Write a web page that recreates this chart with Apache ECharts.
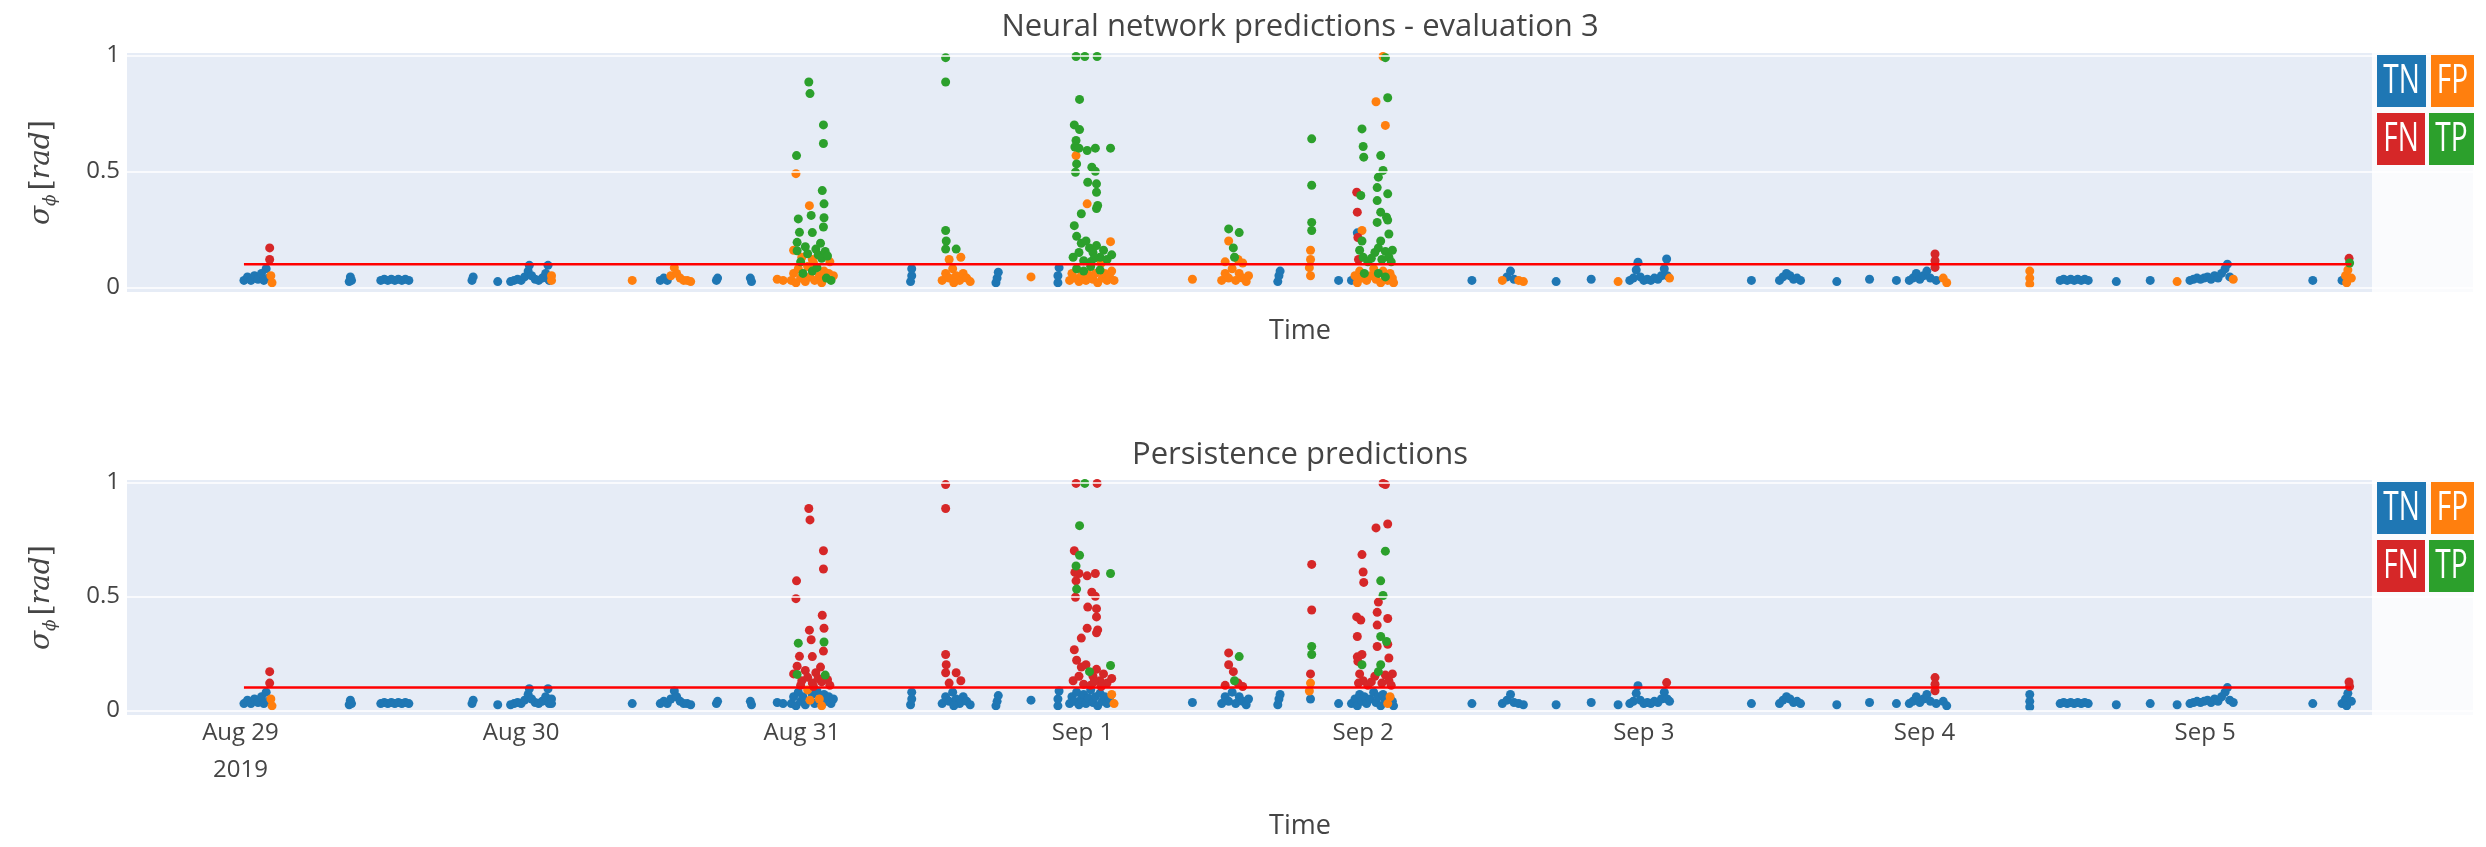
<!DOCTYPE html>
<html><head><meta charset="utf-8">
<script src="https://cdn.jsdelivr.net/npm/echarts@6/dist/echarts.min.js"></script>
<style>html,body{margin:0;padding:0;background:#fff}#c{width:2486px;height:847px}</style>
</head><body><div id="c"></div>
<script>
// ---------------- DATA ----------------
// hours since 2019-08-29 00:00 UTC
const hours = [
  0.3,0.6,0.9,1.2,1.5,1.8,2.0,2.2,2.4,2.5,2.5,2.6,2.7,
  9.3,9.4,9.5,
  12.0,12.3,12.6,12.9,13.2,13.5,13.8,14.1,14.4,
  19.8,19.9,
  22.0,
  23.1,23.4,23.7,24.0,24.3,24.6,24.7,24.9,25.2,25.5,25.8,26.1,26.3,26.4,26.6,26.6,
  33.5,
  35.9,36.2,36.5,36.8,37.1,37.3,37.6,37.9,38.2,38.5,
  40.7,40.8,
  43.6,43.7,
  45.9,
  46.4,
  48.6,48.7,49.85,49.85,47.55,47.5,49.75,48.65,49.9,47.7,48.8,49.9,47.8,48.9,49.85,47.6,49.6,
  47.3,47.6,48.0,48.3,48.5,48.9,49.2,49.4,49.7,50.0,50.2,50.4,47.9,49.0,
  47.1,47.3,47.5,47.7,47.9,48.1,48.3,48.5,48.7,48.9,49.1,49.3,49.5,49.7,49.9,50.1,50.3,50.5,50.7,
  57.3,57.4,57.4,
  60.3,60.3,60.3,60.35,60.3,61.2,61.6,60.6,60.0,60.3,60.6,60.9,61.2,61.5,61.8,62.1,62.4,61.0,
  64.6,64.7,64.8,
  67.6,
  69.9,69.9,70.0,
  71.45,72.2,73.25,71.75,71.3,71.75,71.45,71.35,71.7,72.4,73.1,74.4,71.45,71.5,71.4,72.8,73.1,72.45,73.2,73.2,72.4,73.3,73.2,71.9,71.3,
  71.5,71.9,72.3,72.6,72.9,73.2,73.5,73.8,74.1,74.4,74.5,71.2,71.7,72.1,72.7,73.0,73.6,
  70.9,71.1,71.3,71.5,71.7,71.9,72.1,72.3,72.5,72.7,72.9,73.1,73.3,73.5,73.7,73.9,74.1,74.3,74.5,74.7,
  81.4,
  84.5,85.4,84.5,84.9,85.0,85.3,84.2,85.7,83.9,84.2,84.5,84.8,85.1,85.4,85.7,86.0,86.2,
  88.7,88.8,88.9,
  91.6,91.6,91.6,91.6,91.5,91.5,91.4,91.5,
  93.9,
  97.7,97.9,97.1,98.1,97.9,95.9,96.0,96.05,97.5,97.7,97.3,97.2,98.1,95.45,95.8,97.2,95.5,97.5,98.0,97.2,98.1,95.5,95.55,95.9,98.2,97.5,95.9,
  95.7,96.0,96.4,97.0,97.3,97.6,97.9,98.2,98.4,95.6,96.7,98.5,
  95.0,95.3,95.5,95.7,95.9,96.1,96.3,96.6,96.9,97.1,97.3,97.5,97.7,97.9,98.1,98.3,98.5,98.6,
  105.3,
  107.9,108.3,108.6,108.9,109.3,109.7,
  112.5,
  115.5,
  117.8,
  118.8,119.1,119.35,119.5,119.7,120.0,120.3,120.6,120.9,121.2,121.5,121.75,121.95,122.0,122.2,
  129.2,
  131.6,131.9,132.2,132.5,132.8,133.1,133.4,
  136.5,
  139.3,
  141.6,
  142.7,143.0,143.3,143.6,143.9,144.2,144.5,144.9,144.9,144.9,145.0,145.6,145.9,
  153.0,153.0,153.0,
  155.6,155.9,156.2,156.5,156.8,157.1,157.4,157.7,158.0,
  160.4,
  163.3,
  165.6,
  166.7,167.0,167.3,167.6,167.9,168.2,168.5,168.8,169.1,169.4,169.7,169.9,170.1,170.4,
  177.2,
  179.7,180.0,180.1,180.2,180.3,180.35,180.5
];
// sigma_phi [rad]
const sigma = [
  .03,.045,.03,.05,.035,.06,.03,.08,.04,.17,.12,.05,.02,
  .025,.045,.03,
  .03,.035,.03,.035,.03,.035,.03,.035,.03,
  .03,.045,
  .025,
  .025,.03,.035,.03,.045,.07,.095,.05,.035,.03,.04,.06,.095,.03,.05,.03,
  .03,
  .03,.04,.03,.05,.085,.06,.04,.03,.03,.025,
  .03,.04,
  .04,.025,
  .035,
  .03,
  .885,.835,.70,.62,.568,.49,.417,.352,.36,.295,.31,.30,.237,.236,.26,.194,.19,
  .16,.158,.13,.175,.145,.12,.165,.14,.125,.155,.135,.11,.11,.105,
  .03,.06,.02,.08,.04,.06,.025,.09,.045,.07,.03,.085,.05,.02,.07,.04,.06,.03,.05,
  .025,.05,.08,
  .99,.885,.245,.2,.165,.165,.13,.12,.03,.06,.04,.08,.05,.03,.06,.04,.025,.02,
  .02,.04,.065,
  .045,
  .02,.05,.085,
  .995,.995,.995,.81,.70,.68,.633,.605,.60,.59,.60,.60,.568,.532,.496,.518,.50,.453,.446,.41,.36,.353,.34,.317,.266,
  .22,.19,.2,.17,.15,.18,.13,.16,.12,.197,.14,.13,.15,.115,.11,.125,.105,
  .03,.06,.04,.08,.025,.05,.07,.03,.055,.09,.035,.06,.02,.075,.04,.06,.03,.05,.07,.03,
  .035,
  .252,.236,.2,.17,.13,.12,.11,.105,.03,.06,.04,.08,.03,.06,.04,.025,.05,
  .025,.05,.07,
  .64,.44,.28,.245,.16,.12,.085,.05,
  .03,
  .995,.99,.80,.817,.698,.683,.607,.561,.568,.504,.475,.43,.403,.41,.396,.374,.324,.324,.302,.28,.29,.235,.215,.245,.23,.2,.2,
  .16,.13,.11,.15,.17,.12,.155,.13,.11,.12,.125,.16,
  .03,.05,.02,.07,.04,.06,.03,.05,.08,.035,.06,.02,.07,.045,.03,.06,.04,.02,
  .03,
  .03,.045,.07,.035,.03,.025,
  .025,
  .035,
  .025,
  .03,.04,.075,.108,.045,.03,.035,.03,.04,.035,.05,.08,.122,.05,.04,
  .03,
  .03,.045,.06,.05,.035,.04,.03,
  .025,
  .035,
  .03,
  .03,.04,.06,.035,.05,.07,.04,.144,.115,.086,.03,.04,.02,
  .07,.04,.015,
  .03,.035,.03,.035,.03,.035,.03,.035,.03,
  .025,
  .03,
  .025,
  .03,.035,.04,.035,.04,.045,.035,.05,.04,.06,.08,.1,.045,.035,
  .03,
  .03,.05,.02,.075,.125,.105,.04
];
// class codes: n = TN, p = FP, f = FN, t = TP
const nnClass = [
  'nnnnnnnnnffpp','nnn','nnnnnnnnn','nn','n','nnnnnnnnnnnnnnpp','p','nnnppppppp','nn','nn','p','p',
  'tttttptpttttttttt','ptpttptttttptp','ppppptppptptppptptp',
  'nnn','ttttttpppppppppppp','nnn','p','nnn',
  'ttttttttttttptttttttptttt','tttttttttpttttttp','ppptpptpptppptpppppp',
  'p','ttpttpppppppppppp','nnn','ttttpppp','n',
  'ptptptttttttt' + 'fttftttt' + 'nfpttt','tttttttttftt','npppptpppptpptpppp',
  'n','pnnnpp','n','n','p','nnnnnnnnnnnnnnp','n','nnnnnnn','n','n','n',
  'nnnnnnnfffnpp','ppp','nnnnnnnnn','n','n','p','nnnnnnnnnnnnnp','n','npppftp'
].join('').split('');
const persClass = [
  'nnnnnnnnnffpp','nnn','nnnnnnnnn','nn','n','nnnnnnnnnnnnnnnn','n','nnnnnnnnnn','nn','nn','n','n',
  'ffffffffftftfffff','ftffffffftffff','nnnnnnnppnnnppnnnnn',
  'nnn','ffffffffnnnnnnnnnn','nnn','n','nnn',
  'ftftfttfffftftfffffffffff','ffftffffftfffffff','nnnnnnnnnnnnnnnnnnpp',
  'n','ftfftfffnnnnnnnnn','nnn','ffttfppn','n',
  'fffftffftt' + 'fffffff' + 'tt' + 'ffffff' + 'tt','fffftfffffff','nnnnnnnnnnnnnnppnn',
  'n','nnnnnn','n','n','n','nnnnnnnnnnnnfnn','n','nnnnnnn','n','n','n',
  'nnnnnnnfffnnn','nnn','nnnnnnnnn','n','n','n','nnnnnnnnnnnnnn','n','nnnnffn'
].join('').split('');

if (hours.length !== sigma.length || hours.length !== nnClass.length || hours.length !== persClass.length) {
  throw new Error('length mismatch ' + [hours.length, sigma.length, nnClass.length, persClass.length].join(','));
}

const threshold = 0.1;
const xRangeHours = [-9.7, 190.9];
const yRange = [-0.02, 1.01];
const yTicks = [0, 0.5, 1];
const dayTicks = ['2019-08-29','2019-08-30','2019-08-31','2019-09-01','2019-09-02','2019-09-03','2019-09-04','2019-09-05'];
const classNames = ['TN', 'FP', 'FN', 'TP'];
const panelTitles = ['Neural network predictions - evaluation 3', 'Persistence predictions'];

// ---------------- STYLE / LAYOUT ----------------
const codeMap = { n: 'TN', p: 'FP', f: 'FN', t: 'TP' };
const colors = { TN: '#1f77b4', FP: '#ff7f0e', FN: '#d62728', TP: '#2ca02c' };
const T0 = Date.UTC(2019, 7, 29);
const HOUR = 3600 * 1000;
const toTs = h => T0 + h * HOUR;
const dayTs = dayTicks.map(d => Date.parse(d + 'T00:00:00Z'));
const MONTHS = ['Jan','Feb','Mar','Apr','May','Jun','Jul','Aug','Sep','Oct','Nov','Dec'];
const grids = [
  { left: 127, top: 53, width: 2346, height: 239 },
  { left: 127, top: 480, width: 2346, height: 235 }
];
const FONT = '"Open Sans", "DejaVu Sans", sans-serif';
const TXT = '#444';

function fmtDay(v) {
  const d = new Date(v);
  let s = MONTHS[d.getUTCMonth()] + ' ' + d.getUTCDate();
  if (Math.abs(v - dayTs[0]) < 1000) s += '\n' + d.getUTCFullYear();
  return s;
}

const xAxes = grids.map((g, i) => ({
  type: 'value', gridIndex: i,
  min: toTs(xRangeHours[0]), max: toTs(xRangeHours[1]),
  axisLine: { show: false }, axisTick: { show: false }, splitLine: { show: false },
  axisLabel: i === 1 ? {
    show: true, customValues: dayTs, formatter: fmtDay, color: TXT,
    fontSize: 24, fontFamily: FONT, lineHeight: 37, margin: 0, hideOverlap: false
  } : { show: false },
  name: 'Time', nameLocation: 'middle', nameGap: i === 0 ? 26 : 98,
  nameTextStyle: { color: TXT, fontSize: 27, fontFamily: FONT }
}));

const yAxes = grids.map((g, i) => ({
  type: 'value', gridIndex: i, min: yRange[0], max: yRange[1],
  axisLine: { show: false }, axisTick: { show: false }, splitLine: { show: false },
  axisLabel: { customValues: yTicks, color: TXT, fontSize: 24, fontFamily: FONT, margin: 7 },
  name: '{s|σ}{sub|ϕ}{sp| }{b|[}{i|rad}{b|]}',
  nameLocation: 'middle', nameRotate: 90, nameGap: 68,
  nameTextStyle: {
    color: TXT,
    rich: {
      s: { fontFamily: '"DejaVu Serif", serif', fontStyle: 'italic', fontSize: 28, color: TXT, lineHeight: 34 },
      sub: { fontFamily: '"DejaVu Serif", serif', fontStyle: 'italic', fontSize: 17, color: TXT, verticalAlign: 'bottom', lineHeight: 34 },
      sp: { fontSize: 14 },
      b: { fontFamily: '"DejaVu Serif", serif', fontSize: 29, color: TXT, lineHeight: 34 },
      i: { fontFamily: '"DejaVu Serif", serif', fontStyle: 'italic', fontSize: 28, color: TXT, lineHeight: 34 }
    }
  }
}));

const series = [];
[nnClass, persClass].forEach((cls, gi) => {
  // white horizontal grid lines at the y tick values (drawn beneath the points)
  series.push({
    type: 'line', xAxisIndex: gi, yAxisIndex: gi, data: [], z: 1, silent: true,
    markLine: {
      silent: true, symbol: ['none', 'none'], label: { show: false }, animation: false,
      lineStyle: { color: '#ffffff', width: 1.5, type: 'solid' },
      data: yTicks.map(v => ({ yAxis: v }))
    }
  });
  classNames.forEach(c => {
    const data = [];
    hours.forEach((h, k) => { if (codeMap[cls[k]] === c) data.push([toTs(h), sigma[k]]); });
    series.push({
      type: 'scatter', name: c, xAxisIndex: gi, yAxisIndex: gi,
      symbol: 'circle', symbolSize: 9, itemStyle: { color: colors[c], opacity: 1 },
      data, z: 2, silent: true
    });
  });
  series.push({
    type: 'line', xAxisIndex: gi, yAxisIndex: gi, symbol: 'none', silent: true,
    data: [[toTs(hours[0]), threshold], [toTs(Math.max(...hours)), threshold]],
    lineStyle: { color: '#ff0000', width: 2.5 }, z: 5
  });
});

// legend tiles (graphics over the right end of each panel)
const graphic = [];
grids.forEach((g, gi) => {
  const y0 = g.top + 2;
  graphic.push({ type: 'rect', z: 20, shape: { x: 2372, y: g.top, width: 2473 - 2372, height: g.height },
    style: { fill: 'rgba(255,255,255,0.78)' } });
  const tiles = [
    { c: 'TN', x: 2377, y: y0, w: 49 }, { c: 'FP', x: 2431, y: y0, w: 43 },
    { c: 'FN', x: 2377, y: y0 + 58, w: 48 }, { c: 'TP', x: 2429, y: y0 + 58, w: 45 }
  ];
  tiles.forEach(t => {
    graphic.push({ type: 'rect', z: 21, shape: { x: t.x, y: t.y, width: t.w, height: 52 }, style: { fill: colors[t.c] } });
    graphic.push({ type: 'text', z: 22, x: t.x + t.w / 2, y: t.y + 27, scaleX: 0.7,
      style: { text: t.c, fill: '#ffffff', fontSize: 40, fontFamily: FONT,
        textAlign: 'center', align: 'center', textVerticalAlign: 'middle', verticalAlign: 'middle' } });
  });
});

const option = {
  animation: false,
  backgroundColor: '#ffffff',
  title: panelTitles.map((t, i) => ({
    text: t, left: 1300, textAlign: 'center', top: i === 0 ? 9 : 437, padding: 0,
    textStyle: { color: TXT, fontSize: 31, fontWeight: 'normal', fontFamily: FONT, lineHeight: 36 }
  })),
  grid: grids.map(g => Object.assign({ show: true, backgroundColor: '#e6ecf6', borderWidth: 0, containLabel: false }, g)),
  xAxis: xAxes,
  yAxis: yAxes,
  series,
  graphic
};

const chart = echarts.init(document.getElementById('c'), null, { renderer: 'canvas' });
chart.setOption(option);
</script></body></html>
